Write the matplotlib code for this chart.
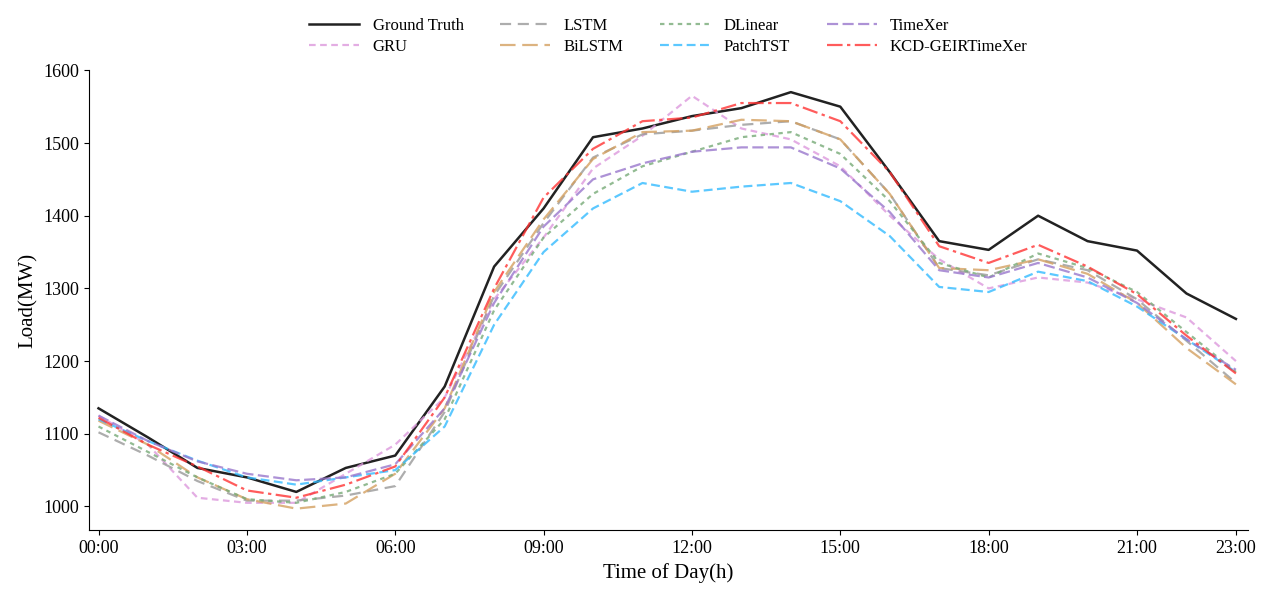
import matplotlib
matplotlib.use("Agg")
import matplotlib.pyplot as plt

plt.rcParams["font.family"] = ["Liberation Serif", "DejaVu Serif"]

HOURS = list(range(24))
TICK_HOURS = [0, 3, 6, 9, 12, 15, 18, 21, 23]
TICK_LABELS = [f"{h:02d}:00" for h in TICK_HOURS]

ground_truth = [1135, 1095, 1053, 1040, 1020, 1053, 1070, 1165, 1330, 1410, 1508, 1520,
                1537, 1548, 1570, 1550, 1460, 1365, 1353, 1400, 1365, 1352, 1293, 1258]
gru = [1125, 1085, 1012, 1005, 1005, 1045, 1085, 1150, 1285, 1370, 1465, 1510,
       1565, 1520, 1505, 1468, 1400, 1340, 1300, 1315, 1308, 1285, 1260, 1200]
lstm = [1102, 1070, 1035, 1008, 1008, 1015, 1028, 1130, 1290, 1390, 1480, 1512,
        1517, 1525, 1530, 1505, 1430, 1328, 1318, 1340, 1325, 1285, 1228, 1170]
bilstm = [1118, 1085, 1040, 1010, 997, 1004, 1045, 1135, 1295, 1395, 1478, 1515,
          1517, 1532, 1530, 1505, 1430, 1328, 1325, 1340, 1320, 1280, 1218, 1168]
dlinear = [1110, 1075, 1040, 1010, 1005, 1020, 1045, 1120, 1270, 1370, 1430, 1468,
           1488, 1508, 1515, 1485, 1420, 1335, 1315, 1348, 1328, 1295, 1240, 1185]
patchtst = [1120, 1090, 1063, 1040, 1030, 1040, 1050, 1110, 1250, 1350, 1410, 1445,
            1433, 1440, 1445, 1420, 1372, 1302, 1295, 1323, 1310, 1275, 1230, 1185]
timexer = [1125, 1090, 1062, 1045, 1036, 1040, 1058, 1135, 1280, 1385, 1450, 1472,
           1488, 1494, 1494, 1465, 1405, 1325, 1315, 1335, 1315, 1280, 1230, 1188]
kcd = [1122, 1085, 1055, 1022, 1012, 1030, 1055, 1150, 1300, 1425, 1492, 1530,
       1535, 1555, 1555, 1530, 1460, 1358, 1335, 1360, 1330, 1292, 1235, 1183]

# (label, values, color, linestyle) in legend order (row-major, 4 columns)
SERIES = [
    ("Ground Truth", ground_truth, "#222222", "-"),
    ("GRU", gru, "#dd99dd", (0, (3, 2))),
    ("LSTM", lstm, "#999999", (0, (5, 3))),
    ("BiLSTM", bilstm, "#d4a060", (0, (7, 3))),
    ("DLinear", dlinear, "#77aa77", (0, (2, 2))),
    ("PatchTST", patchtst, "#33bbff", (0, (4, 2))),
    ("TimeXer", timexer, "#9977cc", (0, (5, 2))),
    ("KCD-GEIRTimeXer", kcd, "#ff3333", (0, (7, 2, 1.5, 2))),
]

fig, ax = plt.subplots(figsize=(12.66, 5.96), dpi=100)
handles = {}
for label, vals, color, ls in SERIES:
    alpha = 1.0 if label == "Ground Truth" else 0.8
    lw = 1.8 if label == "Ground Truth" else 1.6
    (h,) = ax.plot(HOURS, vals, color=color, linestyle=ls, linewidth=lw, alpha=alpha, label=label)
    handles[label] = h

# reorder so matplotlib's column-major fill gives the reference's row layout
order = ["Ground Truth", "GRU", "LSTM", "BiLSTM", "DLinear", "PatchTST", "TimeXer", "KCD-GEIRTimeXer"]
ax.legend([handles[k] for k in order], order, ncol=4, loc="lower center",
          bbox_to_anchor=(0.5, 1.0), frameon=False, fontsize=12,
          handlelength=3, columnspacing=2.2, labelspacing=0.3)

ax.set_xticks(TICK_HOURS)
ax.set_xticklabels(TICK_LABELS)
ax.set_xlim(-0.2, 23.25)
ax.set_ylim(967, 1600)
ax.set_xlabel("Time of Day(h)", fontsize=15)
ax.set_ylabel("Load(MW)", fontsize=15)
ax.tick_params(labelsize=13)
ax.spines["top"].set_visible(False)
ax.spines["right"].set_visible(False)

fig.subplots_adjust(left=0.07, right=0.986, top=0.882, bottom=0.11)
fig.savefig("out.png", dpi=100)
